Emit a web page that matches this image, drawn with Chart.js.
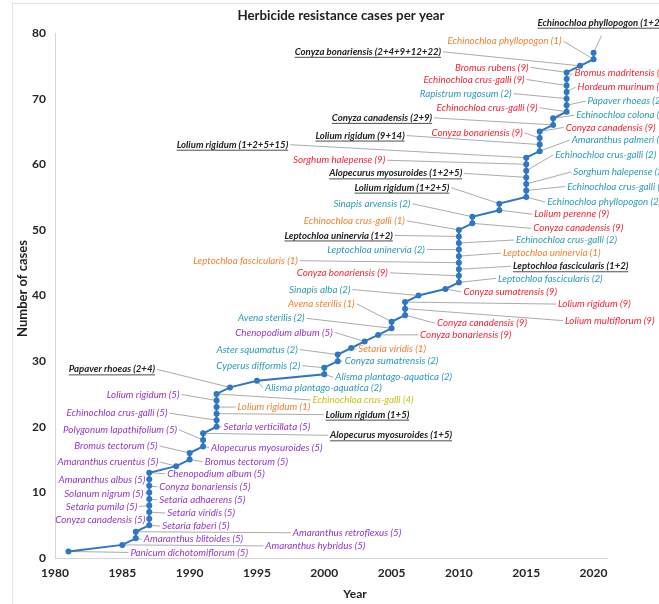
<!DOCTYPE html>
<html>
<head>
<meta charset="utf-8">
<title>Herbicide resistance cases per year</title>
<script src="https://cdn.jsdelivr.net/npm/chart.js@4.4.1/dist/chart.umd.min.js"></script>
<style>
  html, body { margin: 0; padding: 0; background: #ffffff; }
  canvas { display: block; }
</style>
</head>
<body>
<canvas id="chart" width="659" height="604"></canvas>
<script>
// Year in which each resistance case was first reported
const years = [
  1981, 1985, 1986, 1986,
  1987, 1987, 1987, 1987, 1987, 1987, 1987, 1987, 1987,
  1989, 1990, 1990, 1991, 1991, 1991,
  1992, 1992, 1992, 1992, 1992, 1992,
  1993, 1995, 2000, 2000, 2001, 2001, 2002, 2003, 2004,
  2005, 2005, 2006, 2006, 2006, 2007, 2009,
  2010, 2010, 2010, 2010, 2010, 2010, 2010, 2010, 2010,
  2011, 2011, 2013, 2013,
  2015, 2015, 2015, 2015, 2015, 2015, 2015,
  2016, 2016, 2016, 2016, 2017, 2017,
  2018, 2018, 2018, 2018, 2018, 2018, 2018,
  2019, 2020, 2020
];

// Cumulative number of cases
const cases = [
  1, 2, 3, 4,
  5, 6, 7, 8, 9, 10, 11, 12, 13,
  14, 15, 16, 17, 18, 19,
  20, 21, 22, 23, 24, 25,
  26, 27, 28, 29, 30, 31, 32, 33, 34,
  35, 36, 37, 38, 39, 40, 41,
  42, 43, 44, 45, 46, 47, 48, 49, 50,
  51, 52, 53, 54,
  55, 56, 57, 58, 59, 60, 61,
  62, 63, 64, 65, 66, 67,
  68, 69, 70, 71, 72, 73, 74,
  75, 76, 77
];

// Species and herbicide site-of-action group(s) for each case
const species = [
  'Panicum dichotomiflorum (5)', 'Amaranthus hybridus (5)', 'Amaranthus blitoides (5)', 'Amaranthus retroflexus (5)',
  'Setaria faberi (5)', 'Conyza canadensis (5)', 'Setaria viridis (5)', 'Setaria pumila (5)', 'Setaria adhaerens (5)',
  'Solanum nigrum (5)', 'Conyza bonariensis (5)', 'Amaranthus albus (5)', 'Chenopodium album (5)',
  'Amaranthus cruentus (5)', 'Bromus tectorum (5)', 'Bromus tectorum (5)',
  'Alopecurus myosuroides (5)', 'Polygonum lapathifolium (5)', 'Alopecurus myosuroides (1+5)',
  'Setaria verticillata (5)', 'Echinochloa crus-galli (5)', 'Lolium rigidum (1+5)', 'Lolium rigidum (1)',
  'Lolium rigidum (5)', 'Echinochloa crus-galli (4)',
  'Papaver rhoeas (2+4)', 'Alisma plantago-aquatica (2)', 'Alisma plantago-aquatica (2)', 'Cyperus difformis (2)',
  'Conyza sumatrensis (2)', 'Aster squamatus (2)', 'Setaria viridis (1)', 'Chenopodium album (5)', 'Conyza bonariensis (9)',
  'Avena sterilis (2)', 'Avena sterilis (1)', 'Conyza canadensis (9)', 'Lolium multiflorum (9)', 'Lolium rigidum (9)',
  'Sinapis alba (2)', 'Conyza sumatrensis (9)',
  'Leptochloa fascicularis (2)', 'Conyza bonariensis (9)', 'Leptochloa fascicularis (1+2)', 'Leptochloa fascicularis (1)',
  'Leptochloa uninervia (1)', 'Leptochloa uninervia (2)', 'Echinochloa crus-galli (2)', 'Leptochloa uninervia (1+2)',
  'Echinochloa crus-galli (1)',
  'Conyza canadensis (9)', 'Sinapis arvensis (2)', 'Lolium perenne (9)', 'Lolium rigidum (1+2+5)',
  'Echinochloa phyllopogon (2)', 'Echinochloa crus-galli (2)', 'Sorghum halepense (2)', 'Alopecurus myosuroides (1+2+5)',
  'Echinochloa crus-galli (2)', 'Sorghum halepense (9)', 'Lolium rigidum (1+2+5+15)',
  'Amaranthus palmeri (2)', 'Lolium rigidum (9+14)', 'Conyza bonariensis (9)', 'Conyza canadensis (9)',
  'Conyza canadensis (2+9)', 'Echinochloa colona (2)',
  'Echinochloa crus-galli (9)', 'Papaver rhoeas (2)', 'Rapistrum rugosum (2)', 'Hordeum murinum (9)',
  'Echinochloa crus-galli (9)', 'Bromus madritensis (9)', 'Bromus rubens (9)',
  'Conyza bonariensis (2+4+9+12+22)', 'Echinochloa phyllopogon (1)', 'Echinochloa phyllopogon (1+2)'
];

// Label placement relative to its point: [dx px, dy px, side]
// 'L' = text sits left of the anchor, 'R' = text starts at the anchor, 'A' = text above the leader end
const labelPlacement = [
  [62, 1, 'R'], [143, 1, 'R'], [8, 1, 'R'], [157, 1, 'R'],
  [13, 1, 'R'], [-4, 1, 'L'], [18, 1, 'R'], [-12, 1, 'L'], [10, 1, 'R'],
  [-6, 1, 'L'], [10, 1, 'R'], [-4, 1, 'L'], [18, 1, 'R'],
  [-18, -4, 'L'], [15, 2, 'R'], [-32, -7, 'L'],
  [8, 1, 'R'], [-26, -10, 'L'], [127, 2, 'R'],
  [7, 0, 'R'], [-49, -7, 'L'], [109, 1, 'R'], [21, 0, 'R'],
  [-37, -6, 'L'], [96, 6, 'R'],
  [-75, -18, 'L'], [8, 7, 'R'], [11, 3, 'R'], [-24, -2, 'L'],
  [7, 0, 'R'], [-40, -5, 'L'], [7, 1, 'R'], [-32, -9, 'L'], [42, 0, 'R'],
  [-87, -10, 'L'], [-37, -18, 'L'], [32, 8, 'R'], [160, 12, 'R'], [153, 2, 'R'],
  [-68, -6, 'L'], [18, 3, 'R'],
  [39, -4, 'R'], [-71, -3, 'L'], [54, -3, 'R'], [-161, -2, 'L'],
  [44, -3, 'R'], [-34, 0, 'L'], [57, -3, 'R'], [-66, -1, 'L'],
  [-54, -9, 'L'],
  [61, 5, 'R'], [-62, -13, 'L'], [35, 4, 'R'], [-50, -16, 'L'],
  [21, 5, 'R'], [41, -4, 'R'], [47, -12, 'R'], [-64, -4, 'L'],
  [29, -16, 'R'], [-141, -4, 'L'], [-238, -13, 'L'],
  [32, -11, 'R'], [-135, -9, 'L'], [-17, -5, 'L'], [26, -4, 'R'],
  [-121, -7, 'L'], [23, -3, 'R'],
  [-29, -4, 'L'], [21, -4, 'R'], [-55, -5, 'L'], [11, -5, 'R'],
  [-42, -6, 'L'], [8, -6, 'R'], [-38, -5, 'L'],
  [-139, -14, 'L'], [-32, -18, 'L'], [8, -17, 'A']
];

const groupColours = { '1': '#ee8232', '2': '#2a9ab4', '4': '#c4c21a', '5': '#9338c9', '9': '#f22538' };
const MULTI_COLOUR = '#222222';
const LINE_BLUE = '#2f77c2';
const LABEL_FONT = 'italic 9.8px Lato';
const MULTI_FONT = 'italic bold 9.6px Lato';

function groupOf(text) {
  const m = text.match(/\(([^)]*)\)\s*$/);
  return m ? m[1] : '';
}

// White page with the thin light frame around the figure, plus the titles
const frame = {
  id: 'frame',
  beforeDraw(chart) {
    const c = chart.ctx;
    c.save();
    c.fillStyle = '#ffffff';
    c.fillRect(0, 0, chart.width, chart.height);
    c.strokeStyle = '#e3e3e3';
    c.lineWidth = 1;
    c.strokeRect(12.5, 3.5, chart.width + 20, chart.height + 20);
    c.restore();
  },
  afterDraw(chart) {
    const c = chart.ctx;
    const area = chart.chartArea;
    c.save();
    c.fillStyle = '#1e1e1e';
    c.textAlign = 'center';
    c.textBaseline = 'middle';
    c.font = 'bold 13.3px Lato';
    c.fillText('Herbicide resistance cases per year', 341, 16);
    c.font = 'bold 12px Lato';
    c.fillText('Year', 355, 594);
    c.font = 'bold 13px Lato';
    c.translate(23, (area.top + area.bottom) / 2 - 7);
    c.rotate(-Math.PI / 2);
    c.fillText('Number of cases', 0, 0);
    c.restore();
  }
};

// Leader lines under the series, species labels on top
const speciesLabels = {
  id: 'speciesLabels',
  beforeDatasetsDraw(chart) {
    const c = chart.ctx;
    const pts = chart.getDatasetMeta(0).data;
    c.save();
    c.strokeStyle = '#ababab';
    c.lineWidth = 1;
    pts.forEach((p, i) => {
      const [dx, dy, side] = labelPlacement[i];
      const lx = p.x + dx, ly = p.y + dy;
      const sx = side === 'L' ? lx + 2 : side === 'R' ? lx - 2 : lx;
      c.beginPath();
      c.moveTo(sx, ly);
      c.lineTo(p.x, p.y);
      c.stroke();
    });
    c.restore();
  },
  afterDatasetsDraw(chart) {
    const c = chart.ctx;
    const pts = chart.getDatasetMeta(0).data;
    c.save();
    c.textBaseline = 'middle';
    pts.forEach((p, i) => {
      const text = species[i];
      const g = groupOf(text);
      const multi = g.includes('+');
      const [dx, dy, side] = labelPlacement[i];
      let x = p.x + dx, y = p.y + dy;
      c.font = multi ? MULTI_FONT : LABEL_FONT;
      c.fillStyle = multi ? MULTI_COLOUR : (groupColours[g] || '#444');
      const w = c.measureText(text).width;
      let left;
      if (side === 'L') left = x - w;
      else if (side === 'R') left = x;
      else { left = x - 64; y = y - 13; }
      c.textAlign = 'left';
      c.fillText(text, left, y);
      if (multi) {
        c.strokeStyle = '#3a3a3a';
        c.lineWidth = 0.9;
        c.beginPath();
        c.moveTo(left, y + 5.5);
        c.lineTo(left + w, y + 5.5);
        c.stroke();
      }
    });
    c.restore();
  }
};

const points = years.map((yr, i) => ({ x: yr, y: cases[i] }));

new Chart(document.getElementById('chart'), {
  type: 'scatter',
  data: {
    datasets: [{
      data: points,
      showLine: true,
      borderColor: LINE_BLUE,
      backgroundColor: LINE_BLUE,
      borderWidth: 2,
      pointRadius: 3,
      pointBorderWidth: 0,
      pointHoverRadius: 0
    }]
  },
  options: {
    responsive: false,
    animation: false,
    events: [],
    layout: { padding: { top: 33, right: 52, left: 0, bottom: 0 } },
    plugins: {
      legend: { display: false },
      tooltip: { enabled: false },
      title: { display: false }
    },
    scales: {
      x: {
        type: 'linear',
        min: 1980,
        max: 2021,
        afterFit(scale) { scale.height = 46; },
        grid: { display: false, drawTicks: false },
        border: { display: true, color: '#d6d6d6', width: 1 },
        ticks: {
          stepSize: 5,
          includeBounds: false,
          autoSkip: false,
          maxRotation: 0,
          padding: 8,
          color: '#262626',
          font: { family: 'Lato', weight: 'bold', size: 12 },
          callback: v => String(v)
        }
      },
      y: {
        min: 0,
        max: 80,
        afterFit(scale) { scale.width = 55; },
        grid: { display: false, drawTicks: false },
        border: { display: true, color: '#d6d6d6', width: 1 },
        ticks: {
          stepSize: 10,
          padding: 9,
          color: '#262626',
          font: { family: 'Lato', weight: 'bold', size: 12 },
          callback: v => String(v)
        }
      }
    }
  },
  plugins: [frame, speciesLabels]
});
</script>
</body>
</html>
